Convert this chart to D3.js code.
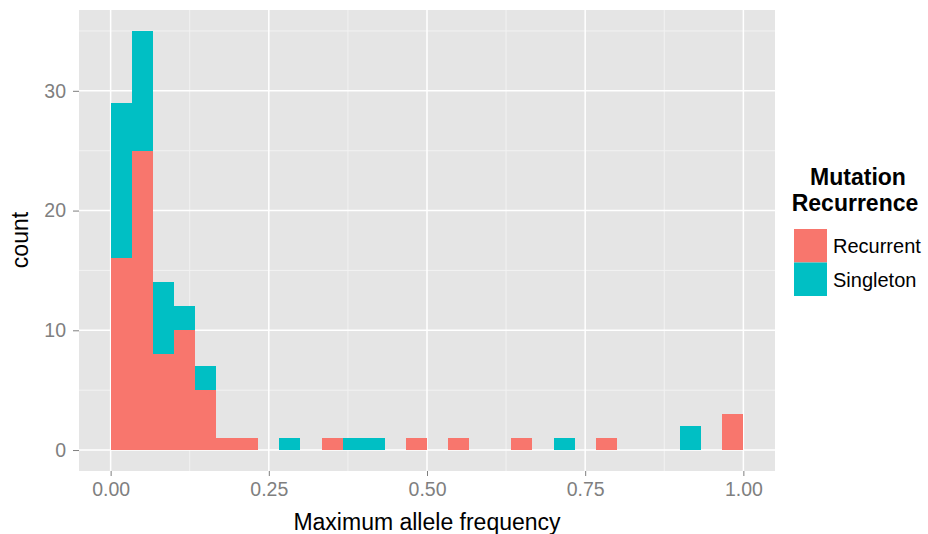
<!DOCTYPE html>
<html>
<head>
<meta charset="utf-8">
<script src="https://cdn.jsdelivr.net/npm/d3@7"></script>
<style>
  body { margin: 0; background: #fff; }
  svg { font-family: "Liberation Sans", Arial, sans-serif; }
</style>
</head>
<body>
<svg id="chart" width="928" height="534"></svg>
<script>
// 30 bins of width 1/30 over [0, 1]
const binWidth = 1 / 30;
const binStarts = d3.range(30).map(i => i * binWidth);
const recurrent = [16, 25, 8, 10, 5, 1, 1, 0, 0, 0, 1, 0, 0, 0, 1, 0, 1, 0, 0, 1, 0, 0, 0, 1, 0, 0, 0, 0, 0, 3];
const singleton = [13, 10, 6, 2, 2, 0, 0, 0, 1, 0, 0, 1, 1, 0, 0, 0, 0, 0, 0, 0, 0, 1, 0, 0, 0, 0, 0, 2, 0, 0];
const groups = ["Recurrent", "Singleton"];
const colors = ["#F8766D", "#00BFC4"];
const xTicks = [0, 0.25, 0.5, 0.75, 1];
const yTicks = [0, 10, 20, 30];

const svg = d3.select("#chart");
const panel = { left: 79, right: 775, top: 10, bottom: 471 };

const x = d3.scaleLinear().domain([-0.05, 1.05]).range([panel.left, panel.right]);
const y = d3.scaleLinear().domain([-1.75, 36.75]).range([panel.bottom, panel.top]);

// Panel background
svg.append("rect")
  .attr("x", panel.left).attr("y", panel.top)
  .attr("width", panel.right - panel.left).attr("height", panel.bottom - panel.top)
  .attr("fill", "#E5E5E5");

// Minor gridlines
const grid = svg.append("g");
[0.125, 0.375, 0.625, 0.875].forEach(v => {
  grid.append("line").attr("x1", x(v)).attr("x2", x(v))
    .attr("y1", panel.top).attr("y2", panel.bottom)
    .attr("stroke", "#F2F2F2").attr("stroke-width", 1);
});
[5, 15, 25, 35].forEach(v => {
  grid.append("line").attr("y1", y(v)).attr("y2", y(v))
    .attr("x1", panel.left).attr("x2", panel.right)
    .attr("stroke", "#F2F2F2").attr("stroke-width", 1);
});
// Major gridlines
xTicks.forEach(v => {
  grid.append("line").attr("x1", x(v)).attr("x2", x(v))
    .attr("y1", panel.top).attr("y2", panel.bottom)
    .attr("stroke", "#fff").attr("stroke-width", 1.5);
});
yTicks.forEach(v => {
  grid.append("line").attr("y1", y(v)).attr("y2", y(v))
    .attr("x1", panel.left).attr("x2", panel.right)
    .attr("stroke", "#fff").attr("stroke-width", 1.5);
});

// Stacked bars
const table = binStarts.map((s, i) => ({ start: s, Recurrent: recurrent[i], Singleton: singleton[i] }));
const stacked = d3.stack().keys(groups)(table);

svg.append("g").selectAll("g")
  .data(stacked)
  .join("g")
  .attr("fill", (d, i) => colors[i])
  .selectAll("rect")
  .data(d => d.filter(p => p[1] > p[0]))
  .join("rect")
  .attr("x", d => x(d.data.start))
  .attr("width", x(binWidth) - x(0))
  .attr("y", d => y(d[1]))
  .attr("height", d => y(d[0]) - y(d[1]))
  .attr("shape-rendering", "crispEdges");

// Axes
const xAxis = svg.append("g")
  .attr("transform", `translate(0,${panel.bottom})`)
  .call(d3.axisBottom(x).tickValues(xTicks).tickFormat(d3.format(".2f")).tickSize(5).tickPadding(6));
const yAxis = svg.append("g")
  .attr("transform", `translate(${panel.left},0)`)
  .call(d3.axisLeft(y).tickValues(yTicks).tickSize(6).tickPadding(7));

[xAxis, yAxis].forEach(a => {
  a.select(".domain").remove();
  a.selectAll(".tick line").attr("stroke", "#7F7F7F");
  a.selectAll(".tick text").attr("fill", "#7F7F7F").style("font-size", "19.5px");
});

// Axis titles
svg.append("text")
  .attr("x", 427)
  .attr("y", 530)
  .attr("text-anchor", "middle")
  .style("font-size", "23px")
  .text("Maximum allele frequency");

svg.append("text")
  .attr("transform", `translate(28,240) rotate(-90)`)
  .attr("text-anchor", "middle")
  .style("font-size", "23px")
  .text("count");

// Legend
const legend = svg.append("g");
legend.append("text")
  .attr("x", 858).attr("y", 185)
  .attr("text-anchor", "middle")
  .style("font-size", "23px").style("font-weight", "bold")
  .text("Mutation");
legend.append("text")
  .attr("x", 855).attr("y", 211)
  .attr("text-anchor", "middle")
  .style("font-size", "23px").style("font-weight", "bold")
  .text("Recurrence");

groups.forEach((g, i) => {
  legend.append("rect")
    .attr("x", 794).attr("y", 229 + i * 33.5)
    .attr("width", 33).attr("height", 33.5)
    .attr("fill", colors[i]);
  legend.append("text")
    .attr("x", 833).attr("y", 246 + i * 33.5)
    .attr("dominant-baseline", "central")
    .style("font-size", "20px")
    .text(g);
});
</script>
</body>
</html>
